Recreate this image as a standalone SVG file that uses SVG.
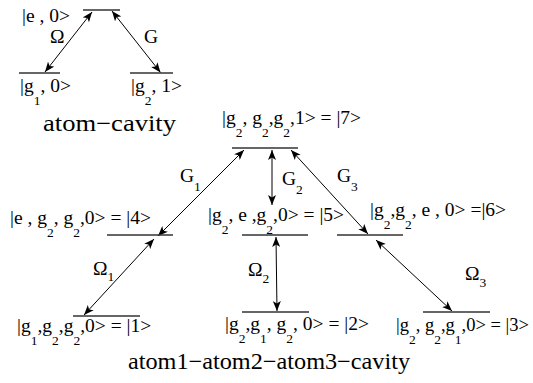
<svg xmlns="http://www.w3.org/2000/svg" width="533" height="383" viewBox="0 0 533 383">
<style>
.lv{stroke:#333;stroke-width:1.5;fill:none}
.ar{stroke:#000;stroke-width:1;fill:none;marker-start:url(#ah);marker-end:url(#ah)}
text{font-family:'Liberation Serif','Times New Roman',serif;fill:#000}
.t{font-size:19.5px}
.s{font-size:13.5px}
.ttl{font-size:23px}
</style>
<defs>
<marker id="ah" viewBox="0 0 10 8" refX="10" refY="4" markerWidth="10" markerHeight="8" markerUnits="userSpaceOnUse" orient="auto-start-reverse">
<path d="M0,0 L10,4 L0,8 L2.5,4 z" fill="#000"/>
</marker>
</defs>
<rect width="533" height="383" fill="#fff"/>
<g id="connectors">
<line class="ar" x1="92" y1="12" x2="45" y2="72"/>
<line class="ar" x1="112" y1="11" x2="160.5" y2="72.5"/>
<line class="ar" x1="158" y1="236" x2="244" y2="150"/>
<line class="ar" x1="154" y1="239" x2="84" y2="315"/>
<line class="ar" x1="272" y1="150" x2="272" y2="205"/>
<line class="ar" x1="276" y1="237" x2="277" y2="311"/>
<line class="ar" x1="291" y1="150" x2="368" y2="234"/>
<line class="ar" x1="376" y1="240" x2="452" y2="311"/>
</g>
<g id="ac-e">
<line class="lv" x1="83" y1="10" x2="120" y2="10"/>
<text class="t" x="22" y="22">|e , 0&gt;</text>
</g>
<g id="ac-g1">
<line class="lv" x1="19" y1="73" x2="60" y2="73"/>
<text class="t" x="20" y="92">|g<tspan class="s" dy="13">1</tspan><tspan dy="-13">, 0&gt;</tspan></text>
</g>
<g id="ac-g2">
<line class="lv" x1="130" y1="73" x2="173" y2="73"/>
<text class="t" x="131" y="92">|g<tspan class="s" dy="13">2</tspan><tspan dy="-13">, 1&gt;</tspan></text>
</g>
<g id="labels-top">
<text class="t" x="50" y="43">Ω</text>
<text class="t" x="144" y="43">G</text>
<text class="ttl" x="43" y="131" textLength="133" lengthAdjust="spacingAndGlyphs">atom−cavity</text>
</g>
<g id="s7">
<line class="lv" x1="232" y1="148" x2="298" y2="148"/>
<text class="t" x="222" y="124">|g<tspan class="s" dy="13">2</tspan><tspan dy="-13">, g</tspan><tspan class="s" dy="13">2</tspan><tspan dy="-13">,g</tspan><tspan class="s" dy="13">2</tspan><tspan dy="-13">,1&gt; = |7&gt;</tspan></text>
</g>
<g id="s4">
<line class="lv" x1="107" y1="235" x2="173" y2="235"/>
<text class="t" x="10" y="224">|e , g<tspan class="s" dy="13">2</tspan><tspan dy="-13">, g</tspan><tspan class="s" dy="13">2</tspan><tspan dy="-13">,0&gt; = |4&gt;</tspan></text>
</g>
<g id="s5">
<line class="lv" x1="242" y1="235" x2="308" y2="235"/>
<text class="t" x="208" y="221">|g<tspan class="s" dy="13">2</tspan><tspan dy="-13">, e ,g</tspan><tspan class="s" dy="13">2</tspan><tspan dy="-13">,0&gt; = |5&gt;</tspan></text>
</g>
<g id="s6">
<line class="lv" x1="337" y1="235" x2="403" y2="235"/>
<text class="t" x="370" y="216">|g<tspan class="s" dy="13">2</tspan><tspan dy="-13">,g</tspan><tspan class="s" dy="13">2</tspan><tspan dy="-13">, e , 0&gt; =|6&gt;</tspan></text>
</g>
<g id="s1">
<line class="lv" x1="73" y1="316" x2="140" y2="316"/>
<text class="t" x="17" y="332">|g<tspan class="s" dy="13">1</tspan><tspan dy="-13">,g</tspan><tspan class="s" dy="13">2</tspan><tspan dy="-13">,g</tspan><tspan class="s" dy="13">2</tspan><tspan dy="-13">,0&gt; = |1&gt;</tspan></text>
</g>
<g id="s2">
<line class="lv" x1="242" y1="312" x2="309" y2="312"/>
<text class="t" x="225" y="330">|g<tspan class="s" dy="13">2</tspan><tspan dy="-13">,g</tspan><tspan class="s" dy="13">1</tspan><tspan dy="-13">, g</tspan><tspan class="s" dy="13">2</tspan><tspan dy="-13">, 0&gt; = |2&gt;</tspan></text>
</g>
<g id="s3">
<line class="lv" x1="423" y1="312" x2="490" y2="312"/>
<text x="396" y="331" style="font-size:18.5px">|g<tspan class="s" dy="13">2</tspan><tspan dy="-13">, g</tspan><tspan class="s" dy="13">2</tspan><tspan dy="-13">,g</tspan><tspan class="s" dy="13">1</tspan><tspan dy="-13">,0&gt; = |3&gt;</tspan></text>
</g>
<g id="labels-bottom">
<text class="t" x="180" y="182">G<tspan class="s" dy="9">1</tspan></text>
<text class="t" x="282" y="185">G<tspan class="s" dy="9">2</tspan></text>
<text class="t" x="337" y="182">G<tspan class="s" dy="9">3</tspan></text>
<text class="t" x="93" y="275">Ω<tspan class="s" dy="6">1</tspan></text>
<text class="t" x="248" y="276">Ω<tspan class="s" dy="7">2</tspan></text>
<text class="t" x="465" y="280">Ω<tspan class="s" dy="7">3</tspan></text>
<text class="ttl" x="128" y="369" textLength="282" lengthAdjust="spacingAndGlyphs">atom1−atom2−atom3−cavity</text>
</g>
</svg>
